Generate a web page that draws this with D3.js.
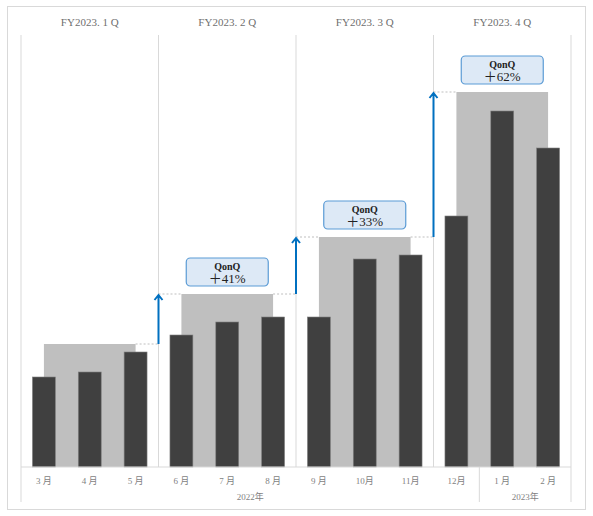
<!DOCTYPE html>
<html>
<head>
<meta charset="utf-8">
<script src="https://cdn.jsdelivr.net/npm/d3@7"></script>
<style>
  body { margin: 0; background: #fff; }
  text { font-family: "Liberation Serif", "DejaVu Serif", "Noto Sans CJK JP", serif; }
</style>
</head>
<body>
<svg id="chart"></svg>
<script>
// データ
const months = ["3 月", "4 月", "5 月", "6 月", "7 月", "8 月", "9 月", "10月", "11月", "12月", "1 月", "2 月"];
const monthValues = [90, 95, 115, 132, 145, 150, 150, 208, 212, 251, 356, 319];
const quarters = ["FY2023. 1 Q", "FY2023. 2 Q", "FY2023. 3 Q", "FY2023. 4 Q"];
const quarterValues = [123, 173, 230, 375];
const growthLabels = ["", "＋41%", "＋33%", "＋62%"];
const years = ["2022年", "2023年"];
const yearStart = ["3 月", "1 月"];

const width = 593, height = 516;
const plotLeft = 21, plotRight = 571, plotTop = 35, base = 467;

const svg = d3.select("#chart").attr("width", width).attr("height", height);

// 外枠
svg.append("rect")
    .attr("x", 7.5).attr("y", 6.5)
    .attr("width", 578).attr("height", 503)
    .style("fill", "#fff")
    .style("stroke", "#d9d9d9");

const x = d3.scaleBand().domain(months).range([plotLeft, plotRight]).padding(0);
const xq = d3.scaleBand().domain(quarters).range([plotLeft, plotRight]).padding(0);
const y = d3.scaleLinear().domain([0, 432]).range([base, plotTop]);

const bw = x.bandwidth() * 0.5;
const cx = m => x(m) + x.bandwidth() / 2;

// 四半期の区切り線
const divs = quarters.map(q => xq(q)).concat([plotRight]);
svg.selectAll(".div")
    .data(divs)
    .enter().append("line")
    .attr("x1", d => d).attr("x2", d => d)
    .attr("y1", plotTop).attr("y2", base)
    .style("stroke", "#d9d9d9")
    .style("stroke-width", "1px");

// 四半期ラベル
svg.selectAll(".qlabel")
    .data(quarters)
    .enter().append("text")
    .attr("x", d => xq(d) + xq.bandwidth() / 2)
    .attr("y", 26)
    .attr("text-anchor", "middle")
    .style("font-size", "11px")
    .style("fill", "#6f6f6f")
    .text(d => d);

// 点線（前四半期からのつなぎ）
const qStart = i => cx(months[i * 3]);
const qEnd = i => cx(months[i * 3 + 2]);
quarters.forEach((q, i) => {
    if (i === 0) return;
    const d = xq(q);
    svg.append("line")
        .attr("x1", qEnd(i - 1)).attr("x2", d)
        .attr("y1", y(quarterValues[i - 1])).attr("y2", y(quarterValues[i - 1]))
        .style("stroke", "#bfbfbf").style("stroke-dasharray", "2,2");
    svg.append("line")
        .attr("x1", d).attr("x2", qStart(i))
        .attr("y1", y(quarterValues[i])).attr("y2", y(quarterValues[i]))
        .style("stroke", "#bfbfbf").style("stroke-dasharray", "2,2");
});

// 四半期の灰色バー
svg.selectAll(".qbar")
    .data(quarterValues)
    .enter().append("rect")
    .attr("x", (d, i) => qStart(i))
    .attr("y", d => y(d))
    .attr("width", (d, i) => qEnd(i) - qStart(i))
    .attr("height", d => base - y(d))
    .style("fill", "#bfbfbf");

// 月別バー
svg.selectAll(".mbar")
    .data(monthValues)
    .enter().append("rect")
    .attr("x", (d, i) => cx(months[i]) - bw / 2)
    .attr("y", d => y(d))
    .attr("width", bw)
    .attr("height", d => base - y(d))
    .style("fill", "#404040")
    .style("stroke", "#7f7f7f")
    .style("stroke-width", "0.6px");

// 矢印
quarters.forEach((q, i) => {
    if (i === 0) return;
    const ax = xq(q);
    const y0 = y(quarterValues[i - 1]), y1 = y(quarterValues[i]);
    svg.append("path")
        .attr("d", `M${ax},${y0}L${ax},${y1 + 1}M${ax - 4},${y1 + 6}L${ax},${y1 + 1}L${ax + 4},${y1 + 6}`)
        .style("fill", "none")
        .style("stroke", "#0070c0")
        .style("stroke-width", "2px");
});

// QonQ 吹き出し
quarters.forEach((q, i) => {
    if (i === 0) return;
    const c = (qStart(i) + qEnd(i)) / 2;
    const by = y(quarterValues[i]) - 8;
    const g = svg.append("g").attr("transform", `translate(${c},${by})`);
    g.append("rect")
        .attr("x", -41).attr("y", -28)
        .attr("width", 82).attr("height", 28)
        .attr("rx", 4)
        .style("fill", "#dde9f6")
        .style("stroke", "#5b9bd5")
        .style("stroke-width", "1.2px");
    g.append("text")
        .attr("y", -16)
        .attr("text-anchor", "middle")
        .style("font-size", "10px")
        .style("font-weight", "bold")
        .style("fill", "#222")
        .text("QonQ");
    g.append("text")
        .attr("y", -3)
        .attr("text-anchor", "middle")
        .style("font-size", "13px")
        .style("fill", "#222")
        .text(growthLabels[i]);
});

// 横軸
svg.append("line")
    .attr("x1", plotLeft).attr("x2", plotRight)
    .attr("y1", base).attr("y2", base)
    .style("stroke", "#d9d9d9");

svg.selectAll(".mlabel")
    .data(months)
    .enter().append("text")
    .attr("x", d => cx(d))
    .attr("y", 484)
    .attr("text-anchor", "middle")
    .style("font-size", "9px")
    .style("fill", "#7f7f7f")
    .text(d => d);

const ySep = yearStart.map(m => x(m)).concat([plotRight]);
svg.selectAll(".ysep")
    .data(ySep)
    .enter().append("line")
    .attr("x1", d => d).attr("x2", d => d)
    .attr("y1", base).attr("y2", 502)
    .style("stroke", "#d9d9d9");

svg.selectAll(".ylabel")
    .data(years)
    .enter().append("text")
    .attr("x", (d, i) => (ySep[i] + ySep[i + 1]) / 2)
    .attr("y", 500)
    .attr("text-anchor", "middle")
    .style("font-size", "9px")
    .style("fill", "#7f7f7f")
    .text(d => d);
</script>
</body>
</html>
